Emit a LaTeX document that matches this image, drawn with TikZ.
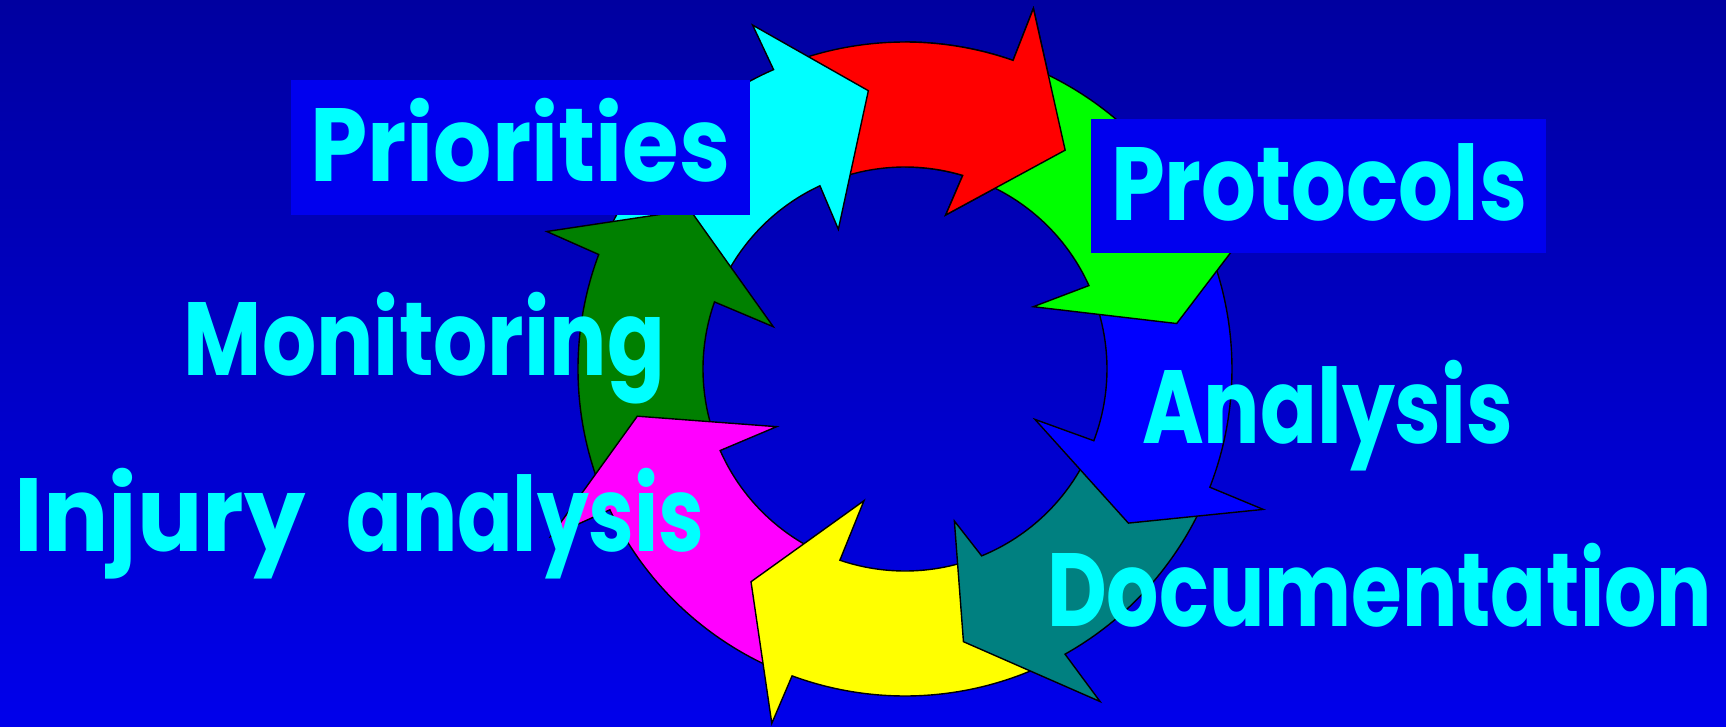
\documentclass[tikz,border=0pt]{standalone}
\usepackage{fontspec}
\newfontfamily\lblfont{Poppins}
\definecolor{bgtop}{RGB}{0,0,160}
\definecolor{bgbot}{RGB}{0,0,235}
\definecolor{boxblue}{RGB}{0,0,238}
\definecolor{txtcyan}{RGB}{0,255,255}
\definecolor{acyan}{RGB}{0,255,255}
\definecolor{ared}{RGB}{255,0,0}
\definecolor{agreen}{RGB}{0,255,0}
\definecolor{ablue}{RGB}{0,0,255}
\definecolor{ateal}{RGB}{0,128,128}
\definecolor{ayellow}{RGB}{255,255,0}
\definecolor{amagenta}{RGB}{255,0,255}
\definecolor{adkgreen}{RGB}{0,128,0}
% #1 colour, #2 tail angle (outer), #3 tail angle (inner), #4 outer shoulder angle,
% #5 outer barb, #6 tip, #7 inner barb, #8 inner shoulder angle
\newcommand\cyclearrow[8]{%
  \path[arrowshape, fill=#1] (#2:327) arc[start angle=#2, end angle=#4, radius=327pt]
    -- (#5) -- (#6) -- (#7) -- (#8:202) arc[start angle=#8, end angle=#3, radius=202pt] -- cycle;}
% label text squeezed to a given width, height kept
\newcommand\fitlabel[2]{\resizebox{#1pt}{\height}{#2}}
\begin{document}
\begin{tikzpicture}[x=1pt, y=1pt,
  arrowshape/.style={draw=black, line width=1.4pt, line join=miter},
  labelbox/.style={fill=boxblue},
  lbl/.style={text=txtcyan, font=\lblfont\bfseries\fontsize{104}{120}\selectfont, anchor=base west, inner sep=0pt}]
\useasboundingbox (-905,-357) rectangle (821,369);
\fill[top color=bgtop, bottom color=bgbot] (-905,-357) rectangle (821,369);
% arrows (each head lies over the tail of the next one)
\cyclearrow{ared}{111}{111}{70.7}{70.4:382.8}{53.8:271.2}{75.2:159.3}{73.4}
\cyclearrow{acyan}{156}{156}{113.7}{113.9:376.2}{97.5:280.7}{115.5:154.8}{114.9}
\cyclearrow{adkgreen}{200}{200}{159.5}{159:383.7}{143.5:267.4}{162.2:138.3}{160.6}
\cyclearrow{amagenta}{-113.5}{-113.5}{-154.5}{-154.7:392}{-170:271.8}{-155.8:140.7}{-156.2}
\cyclearrow{ayellow}{-65}{-71}{-110.2}{-110.6:378.6}{-125.9:262.6}{-107.3:137.9}{-108.8}
\cyclearrow{ateal}{-24}{-24}{-60.7}{-59.6:385.6}{-77.9:278.9}{-72:159.8}{-67.7}
\cyclearrow{ablue}{20.5}{20.5}{-21.2}{-21.4:384.8}{-34.6:271.4}{-21.2:139.4}{-20.8}
\cyclearrow{agreen}{69}{69}{23.5}{23.3:384}{9.5:275.5}{25.9:142.6}{24.4}
\begin{scope}
  \clip (0,0) -- (40:460) arc[start angle=40, end angle=90, radius=460pt] -- cycle;
  \cyclearrow{ared}{111}{111}{70.7}{70.4:382.8}{53.8:271.2}{75.2:159.3}{73.4}
\end{scope}
% label boxes
\fill[labelbox] (-614,154) rectangle (-155,289);
\fill[labelbox] (186,115.7) rectangle (641,250);
% labels
\node[lbl] (prio) at (-595,187.3) {\fitlabel{420}{Priorities}};
\node[lbl] (prot) at (206,148.3) {\fitlabel{416}{Protocols}};
\node[lbl] (moni) at (-721.3,-6) {\fitlabel{481}{Monitoring}};
\node[lbl] (anal) at (237,-74) {\fitlabel{371}{Analysis}};
\node[lbl] (inju) at (-890.7,-182.7) {\fitlabel{291}{Injury}\hspace{41pt}\fitlabel{358}{analysis}};
\node[lbl] (docu) at (142,-257.7) {\fitlabel{665}{Documentation}};
\end{tikzpicture}
\end{document}
